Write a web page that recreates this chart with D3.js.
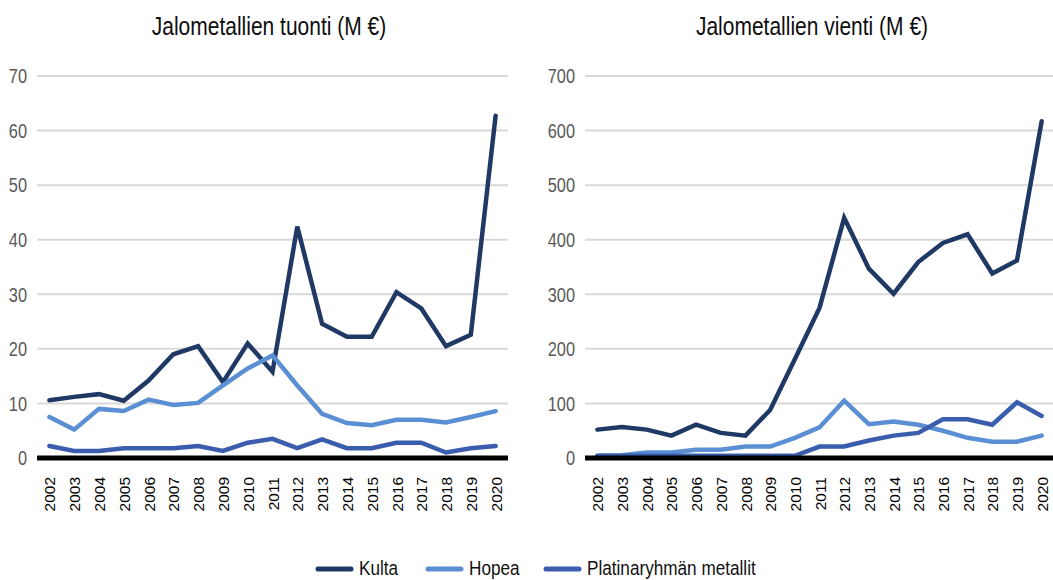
<!DOCTYPE html>
<html>
<head>
<meta charset="utf-8">
<script src="https://cdn.jsdelivr.net/npm/d3@7"></script>
<style>
    body { margin: 0; background: #fff; }
    svg { display: block; }
    text { font-family: "Liberation Sans", Arial, sans-serif; }
</style>
</head>
<body>
<div id="chart"></div>
<script>
// data
const years = d3.range(2002, 2021).map(String);
const seriesNames = ["Kulta", "Hopea", "Platinaryhmän metallit"];
const seriesColors = ["#1f3864", "#5b8fd3", "#3b5dae"];

const tuontiKulta = [10.6, 11.2, 11.7, 10.5, 14.2, 19.0, 20.5, 13.9, 21.0, 15.8, 42.4, 24.6, 22.2, 22.2, 30.4, 27.4, 20.5, 22.6, 62.7];
const tuontiHopea = [7.5, 5.2, 9.0, 8.6, 10.7, 9.7, 10.1, 13.3, 16.4, 18.8, 13.3, 8.1, 6.4, 6.0, 7.0, 7.0, 6.5, 7.5, 8.6];
const tuontiPlatina = [2.2, 1.3, 1.3, 1.8, 1.8, 1.8, 2.2, 1.3, 2.8, 3.5, 1.8, 3.4, 1.8, 1.8, 2.8, 2.8, 1.0, 1.8, 2.2];

const vientiKulta = [52, 57, 52, 41, 61, 46, 41, 88, 181, 275, 440, 347, 301, 359, 394, 410, 338, 362, 617];
const vientiHopea = [4, 5, 10, 10, 15, 15, 21, 21, 37, 56, 105, 62, 67, 61, 50, 37, 30, 30, 41];
const vientiPlatina = [4, 4, 4, 4, 4, 4, 4, 4, 4, 21, 21, 32, 41, 46, 71, 71, 61, 102, 77];

const tuontiTicks = [0, 10, 20, 30, 40, 50, 60, 70];
const vientiTicks = [0, 100, 200, 300, 400, 500, 600, 700];

const width = 1053, height = 580;

const svg = d3.select("#chart").append("svg")
    .attr("width", width)
    .attr("height", height);

// no condensed face installed, so squeeze the text horizontally
function narrowText(sel, x, y, sx) {
    return sel.attr("x", 0).attr("y", 0)
        .attr("transform", `translate(${x},${y}) scale(${sx},1)`);
}

function drawPanel(opts) {
    const x = d3.scalePoint()
        .domain(years)
        .range([opts.x0, opts.x1])
        .padding(0.5);
    const y = d3.scaleLinear()
        .domain([0, opts.ticks[opts.ticks.length - 1]])
        .range([458, 76]);

    const g = svg.append("g");

    // title
    g.append("text")
        .call(narrowText, opts.titleX, 35, 0.84)
        .attr("text-anchor", "middle")
        .attr("font-size", 25)
        .attr("fill", "#0d0d0d")
        .text(opts.title);

    // grid
    g.append("g")
        .selectAll("line")
        .data(opts.ticks.filter(d => d > 0))
        .join("line")
        .attr("x1", opts.x0)
        .attr("x2", opts.x1)
        .attr("y1", d => y(d))
        .attr("y2", d => y(d))
        .attr("stroke", "#d9d9d9")
        .attr("stroke-width", 2);

    // y axis labels
    const yAxis = d3.axisLeft(y).tickValues(opts.ticks).tickSize(0).tickPadding(0);
    const ya = g.append("g")
        .attr("transform", `translate(${opts.labelX},0)`)
        .call(yAxis);
    ya.select(".domain").remove();
    ya.selectAll("text")
        .attr("font-family", "'Liberation Sans', Arial, sans-serif")
        .attr("font-size", 21)
        .attr("fill", "#595959")
        .attr("transform", "scale(0.78,1)");

    // lines
    const line = d3.line()
        .x((d, i) => x(years[i]))
        .y(d => y(d));

    opts.series.forEach((s, i) => {
        g.append("path")
            .datum(s)
            .attr("fill", "none")
            .attr("stroke", seriesColors[i])
            .attr("stroke-width", 4.5)
            .attr("stroke-linejoin", "miter")
            .attr("stroke-linecap", "round")
            .attr("d", line);
    });

    // baseline
    g.append("line")
        .attr("x1", opts.x0)
        .attr("x2", opts.x1)
        .attr("y1", y(0))
        .attr("y2", y(0))
        .attr("stroke", "#000")
        .attr("stroke-width", 5);

    // x axis labels
    const xAxis = d3.axisBottom(x).tickSize(0).tickPadding(0);
    const xa = g.append("g")
        .attr("transform", "translate(0,477)")
        .call(xAxis);
    xa.select(".domain").remove();
    xa.selectAll("text")
        .attr("font-family", "'Liberation Sans', Arial, sans-serif")
        .attr("font-size", 15.5)
        .attr("fill", "#000")
        .attr("text-anchor", "end")
        .attr("dy", "0.36em")
        .attr("transform", "rotate(-90)");
}

drawPanel({
    title: "Jalometallien tuonti (M €)",
    titleX: 269,
    x0: 37, x1: 508,
    labelX: 27,
    ticks: tuontiTicks,
    series: [tuontiKulta, tuontiHopea, tuontiPlatina]
});

drawPanel({
    title: "Jalometallien vienti (M €)",
    titleX: 812,
    x0: 585, x1: 1054,
    labelX: 575,
    ticks: vientiTicks,
    series: [vientiKulta, vientiHopea, vientiPlatina]
});

// legend
const legendX = [316, 426, 544];
const legend = svg.append("g").attr("transform", "translate(0,569)");
seriesNames.forEach((name, i) => {
    legend.append("line")
        .attr("x1", legendX[i] + 2)
        .attr("x2", legendX[i] + 35)
        .attr("stroke", seriesColors[i])
        .attr("stroke-width", 5)
        .attr("stroke-linecap", "round");
    legend.append("text")
        .call(narrowText, legendX[i] + 43, 6, 0.88)
        .attr("font-size", 19.5)
        .attr("fill", "#111")
        .text(name);
});
</script>
</body>
</html>
